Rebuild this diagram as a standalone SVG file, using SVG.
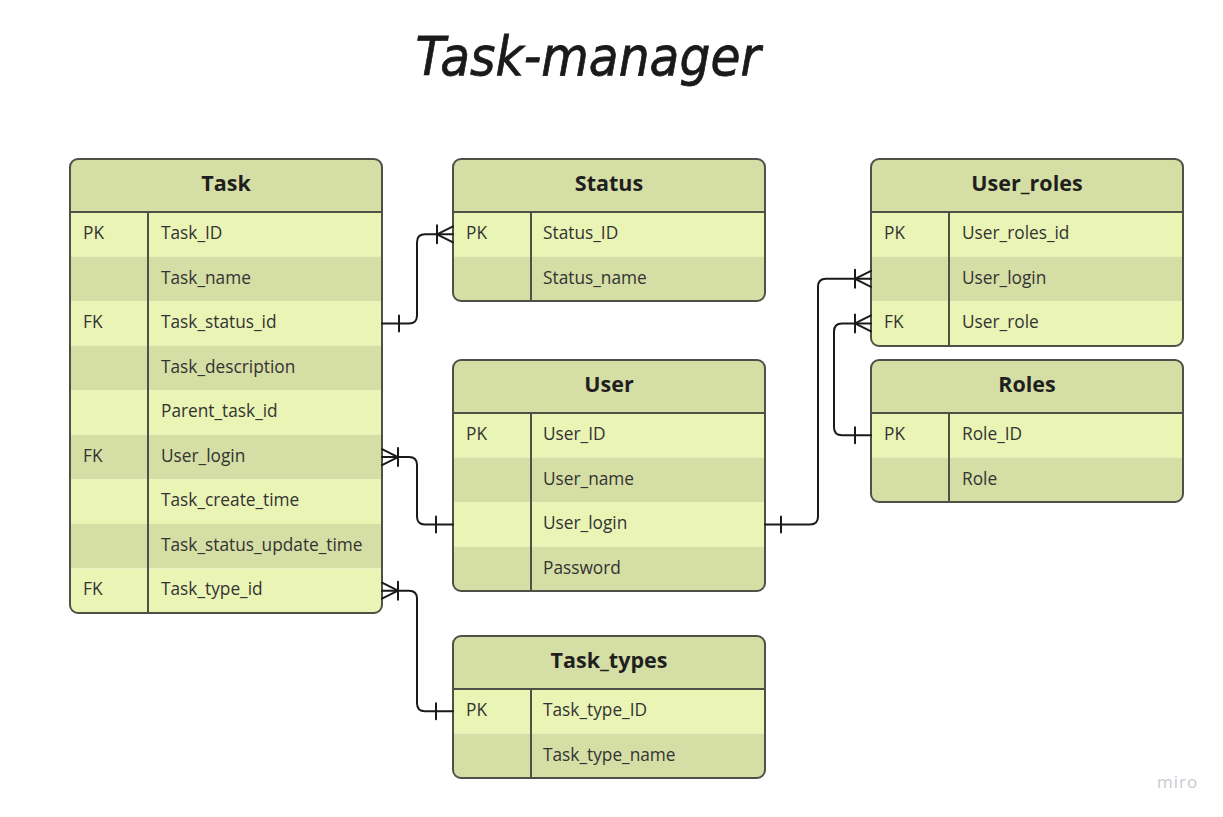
<svg xmlns="http://www.w3.org/2000/svg" width="1223" height="817" viewBox="0 0 1223 817">
<style>
.hdr{fill:#d5dea4}
.lt{fill:#e9f4b5}
.dk{fill:#d5dea4}
.frame{fill:none;stroke:#4f5046;stroke-width:2}
.ln{stroke:#4f5046;stroke-width:2}
.ttl{font-family:"Open Sans","Noto Sans",sans-serif;font-weight:bold;font-size:21.5px;fill:#1f1f1f;text-anchor:middle}
.fld{font-family:"Open Sans","Noto Sans",sans-serif;font-size:17.3px;fill:#333333}
.con{fill:none;stroke:#1a1a1a;stroke-width:2;stroke-linecap:round;stroke-linejoin:round}
.title{font-family:"DejaVu Sans","Liberation Sans",sans-serif;font-style:italic;font-size:54px;fill:#1a1a1a;stroke:#1a1a1a;stroke-width:0.8}
.wm{font-family:"Open Sans","Noto Sans",sans-serif;font-size:17px;fill:#c9c9d1;letter-spacing:1px}
</style>
<defs>
<clipPath id="cTask"><rect x="70" y="159" width="312" height="454" rx="8"/></clipPath>
<clipPath id="cStatus"><rect x="453" y="159" width="312" height="142" rx="8"/></clipPath>
<clipPath id="cUser"><rect x="453" y="360" width="312" height="231" rx="8"/></clipPath>
<clipPath id="cTypes"><rect x="453" y="636" width="312" height="142" rx="8"/></clipPath>
<clipPath id="cUR"><rect x="871" y="159" width="312" height="187" rx="8"/></clipPath>
<clipPath id="cRoles"><rect x="871" y="360" width="312" height="142" rx="8"/></clipPath>
</defs>
<rect width="1223" height="817" fill="#ffffff"/>
<text class="title" x="588" y="75" text-anchor="middle" textLength="345" lengthAdjust="spacingAndGlyphs">Task-manager</text>

<g id="Task">
<g clip-path="url(#cTask)">
<rect class="hdr" x="70" y="159" width="312" height="53"/>
<rect class="lt" x="70" y="212" width="312" height="44.6"/>
<rect class="dk" x="70" y="256.6" width="312" height="44.6"/>
<rect class="lt" x="70" y="301.1" width="312" height="44.6"/>
<rect class="dk" x="70" y="345.7" width="312" height="44.6"/>
<rect class="lt" x="70" y="390.2" width="312" height="44.6"/>
<rect class="dk" x="70" y="434.8" width="312" height="44.6"/>
<rect class="lt" x="70" y="479.4" width="312" height="44.6"/>
<rect class="dk" x="70" y="523.9" width="312" height="44.6"/>
<rect class="lt" x="70" y="568.5" width="312" height="44.6"/>
</g>
<line class="ln" x1="70" y1="212" x2="382" y2="212"/>
<line class="ln" x1="148" y1="212" x2="148" y2="613"/>
<rect class="frame" x="70" y="159" width="312" height="454" rx="8"/>
<text class="ttl" x="226" y="191">Task</text>
<text class="fld" x="83" y="239">PK</text><text class="fld" x="161" y="239">Task_ID</text>
<text class="fld" x="161" y="283.5">Task_name</text>
<text class="fld" x="83" y="328">FK</text><text class="fld" x="161" y="328">Task_status_id</text>
<text class="fld" x="161" y="372.5">Task_description</text>
<text class="fld" x="161" y="417">Parent_task_id</text>
<text class="fld" x="83" y="461.5">FK</text><text class="fld" x="161" y="461.5">User_login</text>
<text class="fld" x="161" y="506">Task_create_time</text>
<text class="fld" x="161" y="550.5">Task_status_update_time</text>
<text class="fld" x="83" y="595">FK</text><text class="fld" x="161" y="595">Task_type_id</text>
</g>

<g id="Status">
<g clip-path="url(#cStatus)">
<rect class="hdr" x="453" y="159" width="312" height="53"/>
<rect class="lt" x="453" y="212" width="312" height="44.6"/>
<rect class="dk" x="453" y="256.6" width="312" height="44.6"/>
</g>
<line class="ln" x1="453" y1="212" x2="765" y2="212"/>
<line class="ln" x1="531" y1="212" x2="531" y2="301"/>
<rect class="frame" x="453" y="159" width="312" height="142" rx="8"/>
<text class="ttl" x="609" y="191">Status</text>
<text class="fld" x="466" y="239">PK</text><text class="fld" x="543" y="239">Status_ID</text>
<text class="fld" x="543" y="283.5">Status_name</text>
</g>

<g id="User">
<g clip-path="url(#cUser)">
<rect class="hdr" x="453" y="360" width="312" height="53"/>
<rect class="lt" x="453" y="413" width="312" height="44.6"/>
<rect class="dk" x="453" y="457.6" width="312" height="44.6"/>
<rect class="lt" x="453" y="502.1" width="312" height="44.6"/>
<rect class="dk" x="453" y="546.7" width="312" height="44.6"/>
</g>
<line class="ln" x1="453" y1="413" x2="765" y2="413"/>
<line class="ln" x1="531" y1="413" x2="531" y2="591"/>
<rect class="frame" x="453" y="360" width="312" height="231" rx="8"/>
<text class="ttl" x="609" y="392">User</text>
<text class="fld" x="466" y="440">PK</text><text class="fld" x="543" y="440">User_ID</text>
<text class="fld" x="543" y="484.5">User_name</text>
<text class="fld" x="543" y="529">User_login</text>
<text class="fld" x="543" y="573.5">Password</text>
</g>

<g id="Task_types">
<g clip-path="url(#cTypes)">
<rect class="hdr" x="453" y="636" width="312" height="53"/>
<rect class="lt" x="453" y="689" width="312" height="44.6"/>
<rect class="dk" x="453" y="733.6" width="312" height="44.6"/>
</g>
<line class="ln" x1="453" y1="689" x2="765" y2="689"/>
<line class="ln" x1="531" y1="689" x2="531" y2="778"/>
<rect class="frame" x="453" y="636" width="312" height="142" rx="8"/>
<text class="ttl" x="609" y="668">Task_types</text>
<text class="fld" x="466" y="716">PK</text><text class="fld" x="543" y="716">Task_type_ID</text>
<text class="fld" x="543" y="760.5">Task_type_name</text>
</g>

<g id="User_roles">
<g clip-path="url(#cUR)">
<rect class="hdr" x="871" y="159" width="312" height="53"/>
<rect class="lt" x="871" y="212" width="312" height="44.6"/>
<rect class="dk" x="871" y="256.6" width="312" height="44.6"/>
<rect class="lt" x="871" y="301.1" width="312" height="44.6"/>
</g>
<line class="ln" x1="871" y1="212" x2="1183" y2="212"/>
<line class="ln" x1="949" y1="212" x2="949" y2="346"/>
<rect class="frame" x="871" y="159" width="312" height="187" rx="8"/>
<text class="ttl" x="1027" y="191">User_roles</text>
<text class="fld" x="884" y="239">PK</text><text class="fld" x="962" y="239">User_roles_id</text>
<text class="fld" x="962" y="283.5">User_login</text>
<text class="fld" x="884" y="328">FK</text><text class="fld" x="962" y="328">User_role</text>
</g>

<g id="Roles">
<g clip-path="url(#cRoles)">
<rect class="hdr" x="871" y="360" width="312" height="53"/>
<rect class="lt" x="871" y="413" width="312" height="44.6"/>
<rect class="dk" x="871" y="457.6" width="312" height="44.6"/>
</g>
<line class="ln" x1="871" y1="413" x2="1183" y2="413"/>
<line class="ln" x1="949" y1="413" x2="949" y2="502"/>
<rect class="frame" x="871" y="360" width="312" height="142" rx="8"/>
<text class="ttl" x="1027" y="392">Roles</text>
<text class="fld" x="884" y="440">PK</text><text class="fld" x="962" y="440">Role_ID</text>
<text class="fld" x="962" y="484.5">Role</text>
</g>

<g id="connectors">
<path class="con" d="M382,323.4 H409 Q417,323.4 417,315.4 V242.3 Q417,234.3 425,234.3 H453"/>
<path class="con" d="M399,315.4 V331.4"/>
<path class="con" d="M437,225.3 V243.3 M437,234.3 L453,226.3 M437,234.3 L453,242.3"/>
<path class="con" d="M382,457.1 H409 Q417,457.1 417,465.1 V516.4 Q417,524.4 425,524.4 H453"/>
<path class="con" d="M398,448.1 V466.1 M398,457.1 L382,449.1 M398,457.1 L382,465.1"/>
<path class="con" d="M436,516.4 V532.4"/>
<path class="con" d="M382,590.7 H409 Q417,590.7 417,598.7 V703.3 Q417,711.3 425,711.3 H453"/>
<path class="con" d="M398,581.7 V599.7 M398,590.7 L382,582.7 M398,590.7 L382,598.7"/>
<path class="con" d="M436,703.3 V719.3"/>
<path class="con" d="M765,524.4 H810 Q818,524.4 818,516.4 V286.8 Q818,278.8 826,278.8 H871"/>
<path class="con" d="M781,516.4 V532.4"/>
<path class="con" d="M855,269.8 V287.8 M855,278.8 L871,270.8 M855,278.8 L871,286.8"/>
<path class="con" d="M871,435.3 H842 Q834,435.3 834,427.3 V331.4 Q834,323.4 842,323.4 H871"/>
<path class="con" d="M855,427.3 V443.3"/>
<path class="con" d="M855,314.4 V332.4 M855,323.4 L871,315.4 M855,323.4 L871,331.4"/>
</g>

<text class="wm" x="1157" y="788">miro</text>
</svg>
